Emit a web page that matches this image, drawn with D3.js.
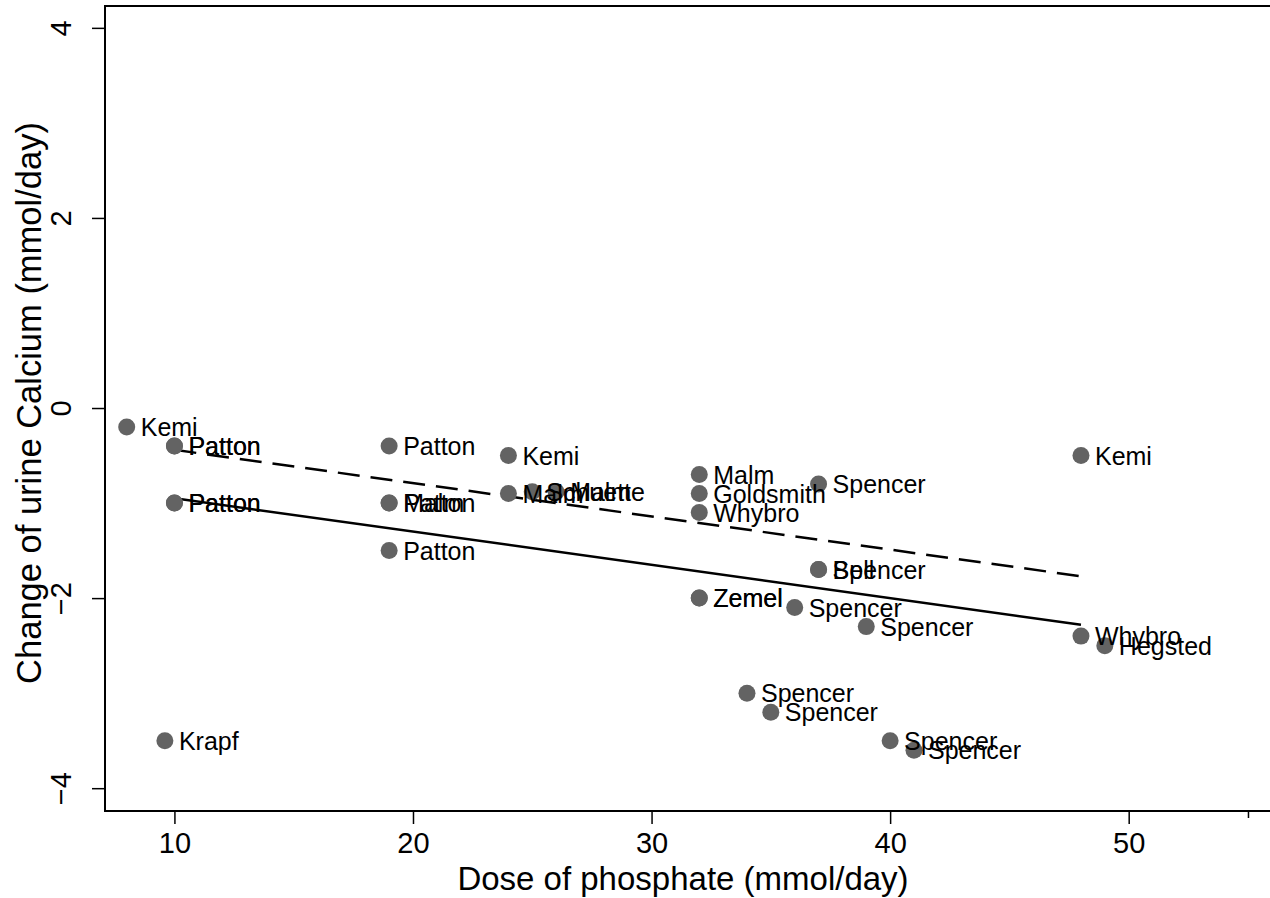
<!DOCTYPE html>
<html>
<head>
<meta charset="utf-8">
<script src="https://cdn.jsdelivr.net/npm/d3@7/dist/d3.min.js"></script>
<style>
  body { margin: 0; background: #fff; }
  svg { display: block; font-family: "Liberation Sans", Arial, Helvetica, sans-serif; }
</style>
</head>
<body>
<div id="chart"></div>
<script>
// Studies: dose of phosphate vs change of urine calcium
const studies = ["Kemi", "Patton", "Patton", "Patton", "Patton", "Krapf",
  "Patton", "Patton", "Malm", "Patton", "Kemi", "Malm", "Schuette", "Malm",
  "Malm", "Goldsmith", "Whybro", "Spencer", "Kemi", "Bell", "Spencer",
  "Zemel", "Zemel", "Spencer", "Spencer", "Whybro", "Hegsted",
  "Spencer", "Spencer", "Spencer", "Spencer"];
const dose = [8, 10, 10, 10, 10, 9.6,
  19, 19, 19, 19, 24, 24, 25, 26,
  32, 32, 32, 37, 48, 37, 37,
  32, 32, 36, 39, 48, 49,
  34, 35, 40, 41];
const calcium = [-0.2, -0.4, -0.4, -1.0, -1.0, -3.5,
  -0.4, -1.0, -1.0, -1.5, -0.5, -0.9, -0.88, -0.88,
  -0.7, -0.9, -1.1, -0.8, -0.5, -1.7, -1.7,
  -2.0, -2.0, -2.1, -2.3, -2.4, -2.5,
  -3.0, -3.2, -3.5, -3.6];

// fitted lines (endpoints)
const fitX = [10, 48];
const fitDashed = [-0.44, -1.77];
const fitSolid = [-0.95, -2.28];

const xTicks = [10, 20, 30, 40, 50];
const xMinorTicks = [55];
const yTicks = [-4, -2, 0, 2, 4];

const W = 1270, H = 898;
const M = { left: 105, right: -40, top: 6, bottom: 87 };

const svg = d3.select("#chart").append("svg")
  .attr("width", W).attr("height", H);

const x = d3.scaleLinear().domain([7.09, 57.6]).range([M.left, W - M.right]);
const y = d3.scaleLinear().domain([-4.24, 4.23]).range([H - M.bottom, M.top]);

// Frame (right side runs off the canvas)
svg.append("rect")
  .attr("x", M.left).attr("y", M.top)
  .attr("width", W - M.right - M.left).attr("height", H - M.bottom - M.top)
  .attr("fill", "none").attr("stroke", "#000").attr("stroke-width", 2);

// X axis
const xAxis = svg.append("g")
  .attr("transform", `translate(0,${H - M.bottom})`)
  .call(d3.axisBottom(x).tickValues(xTicks).tickSize(13).tickPadding(8).tickFormat(d3.format("d")));
xAxis.select(".domain").remove();
xAxis.selectAll("line").attr("stroke-width", 1.5);
xAxis.selectAll("text").attr("font-size", 29).attr("fill", "#000");

svg.append("g")
  .attr("transform", `translate(0,${H - M.bottom})`)
  .call(d3.axisBottom(x).tickValues(xMinorTicks).tickSize(7).tickFormat(""))
  .call(g => g.select(".domain").remove())
  .selectAll("line").attr("stroke-width", 1.5);

// Y axis
const yAxis = svg.append("g")
  .attr("transform", `translate(${M.left},0)`)
  .call(d3.axisLeft(y).tickValues(yTicks).tickSize(13).tickPadding(0).tickFormat(d => d < 0 ? "\u2212" + Math.abs(d) : d));
yAxis.select(".domain").remove();
yAxis.selectAll("line").attr("stroke-width", 1.5);
yAxis.selectAll("text")
  .attr("font-size", 29).attr("fill", "#000")
  .attr("x", 0).attr("dy", 0)
  .attr("text-anchor", "middle")
  .attr("transform", "translate(-34,0) rotate(-90)");

// Axis titles
svg.append("text")
  .attr("x", 683).attr("y", 890)
  .attr("text-anchor", "middle").attr("font-size", 33)
  .text("Dose of phosphate (mmol/day)");

svg.append("text")
  .attr("transform", "translate(41,403) rotate(-90)")
  .attr("text-anchor", "middle").attr("font-size", 34.5)
  .text("Change of urine Calcium (mmol/day)");

// Fit lines
const line = d3.line().x(d => x(d[0])).y(d => y(d[1]));
svg.append("path")
  .attr("d", line(fitX.map((v, i) => [v, fitDashed[i]])))
  .attr("fill", "none").attr("stroke", "#000").attr("stroke-width", 2.5)
  .attr("stroke-dasharray", "22,11");
svg.append("path")
  .attr("d", line(fitX.map((v, i) => [v, fitSolid[i]])))
  .attr("fill", "none").attr("stroke", "#000").attr("stroke-width", 2.5);

// Points and labels
const pts = studies.map((s, i) => ({ s, x: dose[i], y: calcium[i] }));
const g = svg.append("g");
g.selectAll("circle").data(pts).join("circle")
  .attr("cx", d => x(d.x)).attr("cy", d => y(d.y))
  .attr("r", 8.5).attr("fill", "#636363");
g.selectAll("text").data(pts).join("text")
  .attr("x", d => x(d.x) + 14).attr("y", d => y(d.y) + 9)
  .attr("font-size", 25).attr("fill", "#000")
  .text(d => d.s);
</script>
</body>
</html>
